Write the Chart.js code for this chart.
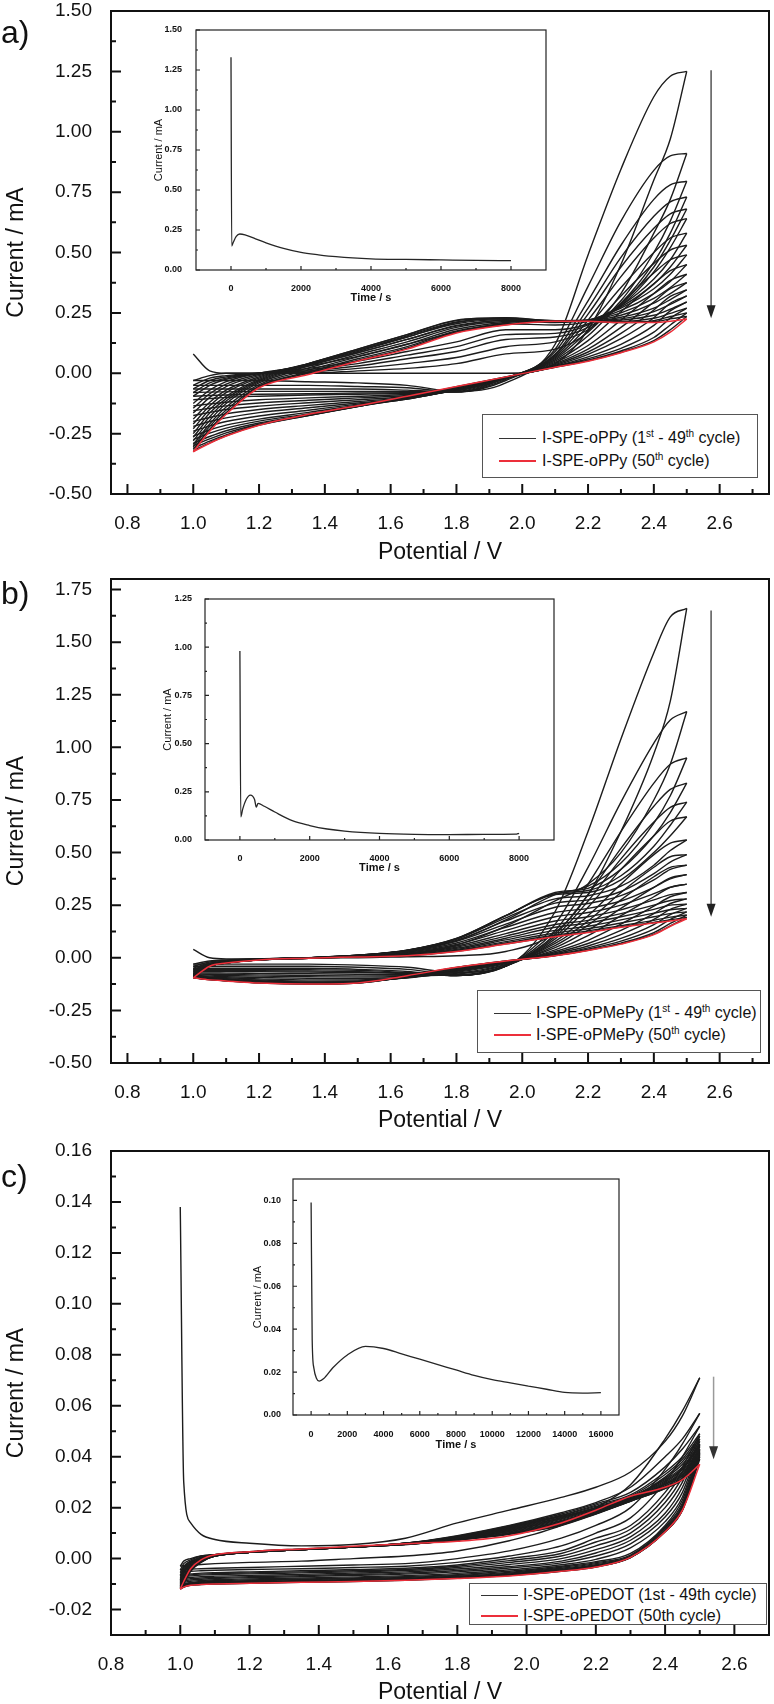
<!DOCTYPE html>
<html>
<head>
<meta charset="utf-8">
<script src="https://cdn.jsdelivr.net/npm/chart.js@4.4.1/dist/chart.umd.min.js"></script>
<style>
  body { margin: 0; background: #fff; width: 774px; height: 1704px; position: relative; overflow: hidden;
         font-family: "Liberation Sans", Arial, sans-serif; color: #111; }
  canvas { position: absolute; }
  .inset { z-index: 2; }
  .plabel { position: absolute; left: 1px; font-size: 32px; line-height: 32px; }
  .legend { position: absolute; box-sizing: border-box; border: 1px solid #555; background: #fff; z-index: 3; }
  .legend .sw { position: absolute; width: 37px; height: 1px; background: #333; }
  .legend .sw.red { height: 2px; margin-top: -1px; background: #ec2f3a; }
  .legend .tx { position: absolute; font-size: 16px; line-height: 1; white-space: nowrap; transform: translateY(-52%); }
  .legend sup { font-size: 10px; line-height: 0; vertical-align: 6px; }
</style>
</head>
<body>

<canvas id="mainA" width="774" height="570" style="left:0;top:0"></canvas>
<canvas id="mainB" width="774" height="565" style="left:0;top:570px"></canvas>
<canvas id="mainC" width="774" height="578" style="left:0;top:1130px"></canvas>
<canvas id="insetA" class="inset" width="420" height="290" style="left:135px;top:22px"></canvas>
<canvas id="insetB" class="inset" width="424" height="290" style="left:140px;top:590px"></canvas>
<canvas id="insetC" class="inset" width="390" height="285" style="left:240px;top:1170px"></canvas>

<div class="plabel" style="top:16px">a)</div>
<div class="plabel" style="top:577px">b)</div>
<div class="plabel" style="top:1160px">c)</div>

<div class="legend" style="left:482px;top:414px;width:276px;height:64px">
  <div class="sw" style="left:16px;top:23px"></div>
  <div class="tx" style="left:59px;top:23px">I-SPE-oPPy (1<sup>st</sup> - 49<sup>th</sup> cycle)</div>
  <div class="sw red" style="left:16px;top:46px"></div>
  <div class="tx" style="left:59px;top:46px">I-SPE-oPPy (50<sup>th</sup> cycle)</div>
</div>
<div class="legend" style="left:477px;top:990px;width:284px;height:63px">
  <div class="sw" style="left:16px;top:22px"></div>
  <div class="tx" style="left:58px;top:22px">I-SPE-oPMePy (1<sup>st</sup> - 49<sup>th</sup> cycle)</div>
  <div class="sw red" style="left:16px;top:44px"></div>
  <div class="tx" style="left:58px;top:44px">I-SPE-oPMePy (50<sup>th</sup> cycle)</div>
</div>
<div class="legend" style="left:469px;top:1583px;width:298px;height:42px">
  <div class="sw" style="left:11px;top:11px"></div>
  <div class="tx" style="left:53px;top:11px">I-SPE-oPEDOT (1st - 49th cycle)</div>
  <div class="sw red" style="left:11px;top:32px"></div>
  <div class="tx" style="left:53px;top:32px">I-SPE-oPEDOT (50th cycle)</div>
</div>

<script>
// tick labels
const potentialTicks = [0.8, 1.0, 1.2, 1.4, 1.6, 1.8, 2.0, 2.2, 2.4, 2.6];
const currentTicksA = [-0.5, -0.25, 0, 0.25, 0.5, 0.75, 1.0, 1.25, 1.5];
const currentTicksB = [-0.5, -0.25, 0, 0.25, 0.5, 0.75, 1.0, 1.25, 1.5, 1.75];
const currentTicksC = [-0.02, 0, 0.02, 0.04, 0.06, 0.08, 0.1, 0.12, 0.14, 0.16];
const timeTicks8k = [0, 2000, 4000, 6000, 8000];
const timeTicks16k = [0, 2000, 4000, 6000, 8000, 10000, 12000, 14000, 16000];
const insetTicksA = [0, 0.25, 0.5, 0.75, 1.0, 1.25, 1.5];
const insetTicksB = [0, 0.25, 0.5, 0.75, 1.0, 1.25];
const insetTicksC = [0, 0.02, 0.04, 0.06, 0.08, 0.1];

// cycle numbers drawn (last one = 50th, red)
const cycles = [1, 2, 3, 4, 5, 6, 8, 10, 12, 15, 18, 22, 26, 30, 35, 40, 45, 49, 50];

// ---- panel a : oPPy ----
const potentialA = [1.0, 1.05, 1.1, 1.2, 1.35, 1.5, 1.65, 1.8, 1.95, 2.1, 2.2, 2.3, 2.4, 2.45, 2.5];
const anodicA = [
  [0.08, 0.01, 0.0, 0.0, 0.0, 0.0, 0.0, 0.0, 0.0, 0.04, 0.18, 0.45, 0.8, 0.97, 1.25],
  [-0.03, -0.01, 0.0, 0.0, 0.0, 0.01, 0.02, 0.04, 0.08, 0.1, 0.17, 0.33, 0.58, 0.72, 0.91],
  [-0.05, -0.02, -0.01, 0.0, 0.005, 0.02, 0.04, 0.065, 0.11, 0.13, 0.18, 0.3, 0.5, 0.63, 0.795],
  [-0.065, -0.03, -0.015, 0.0, 0.01, 0.03, 0.06, 0.09, 0.14, 0.15, 0.19, 0.29, 0.46, 0.58, 0.73],
  [-0.08, -0.04, -0.02, 0.0, 0.015, 0.04, 0.075, 0.11, 0.16, 0.165, 0.2, 0.285, 0.44, 0.55, 0.68],
  [-0.095, -0.05, -0.025, 0.0, 0.02, 0.05, 0.09, 0.13, 0.18, 0.18, 0.205, 0.28, 0.42, 0.52, 0.64],
  [-0.125, -0.07, -0.035, 0.0, 0.03, 0.07, 0.12, 0.17, 0.205, 0.2, 0.215, 0.28, 0.39, 0.47, 0.58],
  [-0.145, -0.085, -0.045, -0.005, 0.035, 0.085, 0.14, 0.195, 0.22, 0.21, 0.22, 0.275, 0.37, 0.44, 0.53],
  [-0.165, -0.1, -0.055, -0.01, 0.04, 0.095, 0.15, 0.21, 0.228, 0.215, 0.22, 0.27, 0.35, 0.41, 0.49],
  [-0.19, -0.12, -0.07, -0.015, 0.04, 0.1, 0.16, 0.22, 0.23, 0.218, 0.22, 0.26, 0.33, 0.38, 0.45],
  [-0.21, -0.135, -0.08, -0.02, 0.04, 0.1, 0.16, 0.218, 0.228, 0.218, 0.22, 0.25, 0.31, 0.355, 0.41],
  [-0.23, -0.15, -0.095, -0.025, 0.038, 0.095, 0.155, 0.212, 0.225, 0.217, 0.218, 0.24, 0.29, 0.33, 0.375],
  [-0.25, -0.165, -0.105, -0.03, 0.035, 0.09, 0.15, 0.205, 0.222, 0.216, 0.216, 0.232, 0.27, 0.305, 0.345],
  [-0.265, -0.18, -0.115, -0.035, 0.03, 0.085, 0.14, 0.198, 0.218, 0.216, 0.215, 0.225, 0.255, 0.285, 0.32],
  [-0.28, -0.195, -0.125, -0.04, 0.022, 0.077, 0.13, 0.19, 0.214, 0.216, 0.215, 0.22, 0.24, 0.265, 0.295],
  [-0.295, -0.21, -0.14, -0.047, 0.013, 0.068, 0.12, 0.182, 0.21, 0.216, 0.215, 0.215, 0.228, 0.248, 0.27],
  [-0.305, -0.22, -0.152, -0.053, 0.005, 0.06, 0.11, 0.175, 0.205, 0.216, 0.215, 0.212, 0.218, 0.235, 0.25],
  [-0.315, -0.232, -0.163, -0.057, 0.0, 0.053, 0.104, 0.17, 0.201, 0.215, 0.215, 0.21, 0.213, 0.225, 0.235],
  [-0.325, -0.24, -0.17, -0.06, -0.005, 0.05, 0.1, 0.167, 0.2, 0.215, 0.215, 0.21, 0.21, 0.215, 0.225]
];
const cathodicA = [
  [-0.03, -0.03, -0.03, -0.03, -0.035, -0.04, -0.05, -0.075, -0.04, 0.12, 0.49, 0.845, 1.145, 1.23, 1.25],
  [-0.05, -0.05, -0.05, -0.05, -0.05, -0.055, -0.06, -0.078, -0.03, 0.1, 0.36, 0.63, 0.84, 0.9, 0.91],
  [-0.065, -0.065, -0.065, -0.065, -0.065, -0.065, -0.07, -0.078, -0.025, 0.09, 0.3, 0.53, 0.72, 0.78, 0.795],
  [-0.08, -0.078, -0.077, -0.075, -0.075, -0.075, -0.075, -0.077, -0.02, 0.08, 0.27, 0.48, 0.65, 0.71, 0.73],
  [-0.095, -0.092, -0.09, -0.087, -0.085, -0.082, -0.08, -0.075, -0.02, 0.075, 0.245, 0.44, 0.6, 0.66, 0.68],
  [-0.11, -0.105, -0.1, -0.095, -0.09, -0.087, -0.083, -0.073, -0.02, 0.07, 0.22, 0.4, 0.56, 0.62, 0.64],
  [-0.135, -0.127, -0.12, -0.11, -0.102, -0.095, -0.088, -0.072, -0.02, 0.065, 0.195, 0.355, 0.5, 0.56, 0.58],
  [-0.155, -0.145, -0.135, -0.123, -0.112, -0.102, -0.092, -0.071, -0.02, 0.06, 0.175, 0.32, 0.455, 0.51, 0.53],
  [-0.175, -0.162, -0.15, -0.136, -0.122, -0.11, -0.096, -0.07, -0.02, 0.055, 0.155, 0.29, 0.415, 0.47, 0.49],
  [-0.2, -0.183, -0.168, -0.15, -0.133, -0.117, -0.1, -0.07, -0.02, 0.05, 0.135, 0.255, 0.37, 0.425, 0.45],
  [-0.22, -0.2, -0.185, -0.163, -0.143, -0.123, -0.103, -0.07, -0.02, 0.045, 0.115, 0.22, 0.33, 0.385, 0.41],
  [-0.24, -0.218, -0.2, -0.177, -0.153, -0.128, -0.106, -0.069, -0.02, 0.04, 0.1, 0.19, 0.295, 0.35, 0.375],
  [-0.26, -0.235, -0.215, -0.19, -0.162, -0.132, -0.107, -0.068, -0.02, 0.036, 0.088, 0.165, 0.262, 0.318, 0.345],
  [-0.275, -0.248, -0.227, -0.198, -0.168, -0.135, -0.107, -0.066, -0.019, 0.032, 0.078, 0.143, 0.23, 0.29, 0.32],
  [-0.29, -0.262, -0.238, -0.206, -0.172, -0.137, -0.104, -0.063, -0.018, 0.029, 0.068, 0.12, 0.198, 0.258, 0.295],
  [-0.3, -0.272, -0.247, -0.211, -0.174, -0.138, -0.101, -0.06, -0.017, 0.027, 0.06, 0.103, 0.17, 0.228, 0.27],
  [-0.31, -0.281, -0.255, -0.214, -0.175, -0.138, -0.099, -0.058, -0.016, 0.026, 0.054, 0.092, 0.148, 0.2, 0.25],
  [-0.32, -0.288, -0.259, -0.215, -0.175, -0.137, -0.097, -0.056, -0.015, 0.025, 0.051, 0.087, 0.135, 0.18, 0.235],
  [-0.325, -0.29, -0.26, -0.215, -0.17, -0.135, -0.095, -0.055, -0.015, 0.025, 0.05, 0.085, 0.13, 0.17, 0.225]
];
const timeA = [0, 20, 60, 150, 250, 400, 700, 1000, 1500, 2000, 2500, 3000, 4000, 5000, 6000, 7000, 8000];
const currentA = [1.33, 0.15, 0.17, 0.21, 0.225, 0.22, 0.195, 0.17, 0.135, 0.11, 0.095, 0.083, 0.07, 0.066, 0.063, 0.06, 0.058];

// ---- panel b : oPMePy ----
const potentialB = [1.0, 1.05, 1.1, 1.2, 1.35, 1.5, 1.65, 1.8, 1.95, 2.1, 2.2, 2.3, 2.4, 2.45, 2.5];
const anodicB = [
  [0.04, 0.0, -0.005, -0.005, 0.0, 0.0, 0.005, 0.01, 0.03, 0.12, 0.3, 0.6, 0.97, 1.22, 1.66],
  [-0.03, -0.015, -0.01, -0.005, 0.0, 0.005, 0.02, 0.06, 0.15, 0.27, 0.35, 0.5, 0.75, 0.92, 1.17],
  [-0.04, -0.02, -0.012, -0.005, 0.0, 0.01, 0.03, 0.08, 0.18, 0.3, 0.34, 0.45, 0.64, 0.77, 0.95],
  [-0.05, -0.025, -0.015, -0.007, 0.0, 0.01, 0.035, 0.09, 0.2, 0.31, 0.33, 0.42, 0.58, 0.69, 0.83],
  [-0.055, -0.028, -0.016, -0.007, 0.0, 0.011, 0.036, 0.092, 0.2, 0.305, 0.32, 0.39, 0.53, 0.63, 0.74],
  [-0.06, -0.03, -0.018, -0.008, 0.0, 0.012, 0.036, 0.092, 0.2, 0.3, 0.31, 0.37, 0.5, 0.58, 0.67],
  [-0.067, -0.033, -0.019, -0.008, 0.0, 0.012, 0.035, 0.088, 0.19, 0.28, 0.295, 0.34, 0.44, 0.51, 0.56],
  [-0.073, -0.035, -0.02, -0.009, 0.0, 0.012, 0.034, 0.083, 0.175, 0.26, 0.275, 0.315, 0.4, 0.455, 0.49],
  [-0.077, -0.037, -0.021, -0.009, 0.0, 0.012, 0.032, 0.078, 0.16, 0.24, 0.258, 0.295, 0.37, 0.42, 0.44],
  [-0.081, -0.038, -0.022, -0.01, 0.0, 0.011, 0.029, 0.07, 0.145, 0.215, 0.235, 0.27, 0.335, 0.375, 0.395],
  [-0.084, -0.039, -0.023, -0.01, 0.0, 0.01, 0.026, 0.063, 0.13, 0.195, 0.215, 0.25, 0.305, 0.335, 0.35],
  [-0.087, -0.04, -0.024, -0.01, -0.001, 0.009, 0.023, 0.056, 0.115, 0.175, 0.195, 0.228, 0.275, 0.3, 0.31],
  [-0.089, -0.04, -0.024, -0.01, -0.001, 0.008, 0.02, 0.05, 0.103, 0.158, 0.178, 0.21, 0.25, 0.272, 0.28],
  [-0.09, -0.04, -0.025, -0.01, -0.002, 0.007, 0.018, 0.045, 0.093, 0.145, 0.165, 0.195, 0.23, 0.25, 0.255],
  [-0.092, -0.04, -0.025, -0.01, -0.002, 0.006, 0.015, 0.04, 0.085, 0.13, 0.15, 0.18, 0.212, 0.228, 0.235],
  [-0.093, -0.04, -0.025, -0.01, -0.002, 0.005, 0.013, 0.036, 0.077, 0.118, 0.138, 0.165, 0.195, 0.21, 0.218],
  [-0.094, -0.04, -0.025, -0.01, -0.002, 0.005, 0.011, 0.033, 0.07, 0.108, 0.128, 0.153, 0.178, 0.193, 0.203],
  [-0.095, -0.04, -0.025, -0.01, -0.002, 0.004, 0.01, 0.031, 0.066, 0.102, 0.122, 0.147, 0.168, 0.18, 0.192],
  [-0.095, -0.04, -0.025, -0.01, -0.002, 0.004, 0.01, 0.03, 0.065, 0.1, 0.12, 0.145, 0.165, 0.175, 0.185]
];
const cathodicB = [
  [-0.03, -0.03, -0.03, -0.03, -0.03, -0.035, -0.045, -0.07, -0.04, 0.22, 0.6, 1.04, 1.45, 1.62, 1.66],
  [-0.04, -0.04, -0.04, -0.04, -0.04, -0.045, -0.055, -0.08, -0.04, 0.16, 0.43, 0.74, 1.02, 1.13, 1.17],
  [-0.05, -0.05, -0.05, -0.05, -0.05, -0.055, -0.065, -0.085, -0.04, 0.13, 0.35, 0.6, 0.83, 0.92, 0.95],
  [-0.055, -0.055, -0.055, -0.055, -0.057, -0.06, -0.07, -0.085, -0.04, 0.11, 0.3, 0.52, 0.72, 0.8, 0.83],
  [-0.06, -0.06, -0.06, -0.061, -0.063, -0.066, -0.073, -0.085, -0.04, 0.1, 0.27, 0.47, 0.645, 0.715, 0.74],
  [-0.065, -0.065, -0.065, -0.066, -0.068, -0.07, -0.075, -0.085, -0.04, 0.09, 0.24, 0.42, 0.58, 0.65, 0.67],
  [-0.072, -0.072, -0.073, -0.074, -0.076, -0.078, -0.08, -0.082, -0.037, 0.078, 0.2, 0.35, 0.49, 0.545, 0.56],
  [-0.077, -0.078, -0.079, -0.081, -0.084, -0.086, -0.085, -0.078, -0.034, 0.068, 0.175, 0.31, 0.43, 0.48, 0.49],
  [-0.08, -0.082, -0.084, -0.087, -0.09, -0.092, -0.088, -0.074, -0.031, 0.058, 0.155, 0.275, 0.385, 0.43, 0.44],
  [-0.084, -0.087, -0.09, -0.094, -0.098, -0.099, -0.092, -0.069, -0.028, 0.048, 0.13, 0.235, 0.335, 0.38, 0.395],
  [-0.087, -0.091, -0.095, -0.1, -0.105, -0.105, -0.095, -0.065, -0.025, 0.038, 0.105, 0.2, 0.29, 0.335, 0.35],
  [-0.089, -0.094, -0.099, -0.105, -0.111, -0.11, -0.095, -0.062, -0.023, 0.03, 0.083, 0.16, 0.245, 0.29, 0.31],
  [-0.091, -0.097, -0.102, -0.109, -0.115, -0.113, -0.094, -0.059, -0.021, 0.024, 0.068, 0.13, 0.21, 0.258, 0.28],
  [-0.092, -0.099, -0.104, -0.112, -0.118, -0.115, -0.093, -0.056, -0.02, 0.019, 0.056, 0.11, 0.182, 0.23, 0.255],
  [-0.093, -0.101, -0.106, -0.115, -0.121, -0.117, -0.091, -0.053, -0.018, 0.015, 0.047, 0.092, 0.158, 0.205, 0.235],
  [-0.094, -0.103, -0.108, -0.117, -0.123, -0.119, -0.089, -0.05, -0.017, 0.012, 0.041, 0.079, 0.136, 0.182, 0.218],
  [-0.095, -0.104, -0.109, -0.119, -0.124, -0.12, -0.087, -0.047, -0.016, 0.011, 0.037, 0.07, 0.12, 0.163, 0.203],
  [-0.095, -0.104, -0.11, -0.12, -0.125, -0.12, -0.086, -0.046, -0.015, 0.01, 0.035, 0.067, 0.112, 0.152, 0.192],
  [-0.095, -0.105, -0.11, -0.12, -0.125, -0.12, -0.085, -0.045, -0.015, 0.01, 0.035, 0.065, 0.11, 0.15, 0.185]
];
const timeB = [0, 25, 80, 180, 300, 420, 470, 520, 700, 1000, 1500, 2000, 2500, 3000, 4000, 5000, 6000, 7000, 7900, 8000];
const currentB = [0.98, 0.12, 0.16, 0.21, 0.233, 0.21, 0.17, 0.19, 0.175, 0.145, 0.1, 0.075, 0.057, 0.046, 0.034, 0.029, 0.028, 0.029, 0.03, 0.035];

// ---- panel c : oPEDOT ----
const potentialC = [1.0, 1.01, 1.03, 1.06, 1.1, 1.2, 1.35, 1.5, 1.65, 1.8, 1.95, 2.1, 2.2, 2.3, 2.4, 2.45, 2.5];
const anodicC = [
  [0.138, 0.03, 0.014, 0.0095, 0.0075, 0.006, 0.005, 0.0055, 0.008, 0.014, 0.019, 0.024, 0.028, 0.034, 0.046, 0.056, 0.071],
  [-0.003, -0.001, 0.0, 0.001, 0.0015, 0.0025, 0.0035, 0.0045, 0.006, 0.009, 0.013, 0.018, 0.022, 0.028, 0.04, 0.047, 0.057],
  [-0.0045, -0.002, -0.0005, 0.001, 0.0015, 0.0025, 0.0035, 0.0045, 0.006, 0.0088, 0.0128, 0.0175, 0.0215, 0.026, 0.036, 0.043, 0.052],
  [-0.0055, -0.003, -0.001, 0.0005, 0.0015, 0.0025, 0.0035, 0.0045, 0.006, 0.0086, 0.0125, 0.017, 0.021, 0.025, 0.034, 0.04, 0.049],
  [-0.0065, -0.0035, -0.0012, 0.0005, 0.0015, 0.0025, 0.0035, 0.0045, 0.006, 0.0084, 0.0122, 0.0168, 0.0205, 0.0245, 0.033, 0.039, 0.048],
  [-0.007, -0.004, -0.0015, 0.0005, 0.0015, 0.0025, 0.0035, 0.0045, 0.006, 0.0082, 0.012, 0.0165, 0.02, 0.024, 0.032, 0.038, 0.047],
  [-0.0078, -0.0045, -0.0018, 0.0003, 0.0013, 0.0025, 0.0035, 0.0045, 0.006, 0.0081, 0.0118, 0.0162, 0.02, 0.024, 0.0315, 0.037, 0.046],
  [-0.0085, -0.005, -0.002, 0.0, 0.0012, 0.0025, 0.0035, 0.0045, 0.0059, 0.008, 0.0115, 0.016, 0.0198, 0.024, 0.031, 0.036, 0.045],
  [-0.009, -0.0055, -0.0023, 0.0, 0.0012, 0.0025, 0.0035, 0.0045, 0.0058, 0.008, 0.0113, 0.0157, 0.0196, 0.024, 0.0305, 0.0355, 0.0445],
  [-0.0095, -0.006, -0.0026, -0.0002, 0.0011, 0.0025, 0.0035, 0.0045, 0.0058, 0.0079, 0.0111, 0.0154, 0.0193, 0.0238, 0.03, 0.035, 0.044],
  [-0.01, -0.0068, -0.003, -0.0005, 0.001, 0.0025, 0.0035, 0.0045, 0.0058, 0.0078, 0.011, 0.015, 0.019, 0.0235, 0.0295, 0.0342, 0.043],
  [-0.0103, -0.0073, -0.0033, -0.0006, 0.001, 0.0025, 0.0035, 0.0045, 0.0057, 0.0077, 0.0107, 0.0147, 0.0187, 0.0233, 0.0292, 0.0336, 0.0425],
  [-0.0107, -0.0078, -0.0036, -0.0008, 0.001, 0.0025, 0.0035, 0.0045, 0.0056, 0.0076, 0.0105, 0.0144, 0.0184, 0.023, 0.029, 0.033, 0.042],
  [-0.011, -0.0083, -0.0039, -0.0009, 0.001, 0.0025, 0.0035, 0.0045, 0.0056, 0.0075, 0.0102, 0.0141, 0.0181, 0.0229, 0.0285, 0.0325, 0.0415],
  [-0.0113, -0.0088, -0.0042, -0.001, 0.001, 0.0025, 0.0035, 0.0045, 0.0055, 0.0075, 0.01, 0.0138, 0.0179, 0.0227, 0.0281, 0.0318, 0.041],
  [-0.0115, -0.0092, -0.0045, -0.0012, 0.001, 0.0025, 0.0035, 0.0045, 0.0055, 0.0074, 0.0098, 0.0135, 0.0177, 0.0226, 0.0278, 0.0314, 0.0405],
  [-0.0117, -0.0096, -0.0048, -0.0014, 0.0011, 0.0026, 0.0037, 0.0046, 0.0056, 0.0073, 0.0096, 0.0132, 0.0176, 0.0225, 0.0276, 0.0311, 0.04],
  [-0.0119, -0.0099, -0.005, -0.0015, 0.0012, 0.0027, 0.0038, 0.0047, 0.0056, 0.0072, 0.0095, 0.013, 0.0175, 0.0225, 0.0275, 0.031, 0.039],
  [-0.012, -0.009, -0.004, -0.0005, 0.0015, 0.0027, 0.0038, 0.0048, 0.0058, 0.0068, 0.009, 0.014, 0.019, 0.0245, 0.028, 0.031, 0.037]
];
const cathodicC = [
  [-0.003, -0.0028, -0.0026, -0.0023, -0.002, -0.0015, -0.001, 0.0, 0.001, 0.003, 0.007, 0.013, 0.02, 0.029, 0.047, 0.058, 0.071],
  [-0.0045, -0.0043, -0.0041, -0.004, -0.0038, -0.0035, -0.003, -0.0025, -0.002, 0.0, 0.003, 0.008, 0.013, 0.02, 0.035, 0.045, 0.057],
  [-0.0055, -0.0053, -0.005, -0.0048, -0.0046, -0.0043, -0.004, -0.0035, -0.003, -0.0015, 0.001, 0.005, 0.01, 0.016, 0.03, 0.04, 0.052],
  [-0.0065, -0.0062, -0.006, -0.0057, -0.0055, -0.0052, -0.0048, -0.0043, -0.0038, -0.0025, 0.0, 0.003, 0.008, 0.013, 0.026, 0.036, 0.049],
  [-0.007, -0.0067, -0.0064, -0.0061, -0.0059, -0.0056, -0.0052, -0.0048, -0.0043, -0.003, -0.0008, 0.002, 0.0065, 0.0115, 0.024, 0.034, 0.048],
  [-0.0075, -0.0072, -0.0068, -0.0065, -0.0063, -0.006, -0.0056, -0.0052, -0.0047, -0.0035, -0.0015, 0.001, 0.005, 0.01, 0.022, 0.032, 0.047],
  [-0.0082, -0.0078, -0.0074, -0.0071, -0.0069, -0.0066, -0.0062, -0.0057, -0.0052, -0.0041, -0.0023, 0.0, 0.0035, 0.0085, 0.02, 0.03, 0.046],
  [-0.0088, -0.0083, -0.0079, -0.0076, -0.0074, -0.0071, -0.0067, -0.0062, -0.0057, -0.0047, -0.0031, -0.001, 0.0022, 0.0072, 0.0178, 0.028, 0.045],
  [-0.0093, -0.0088, -0.0084, -0.0081, -0.0078, -0.0075, -0.0071, -0.0066, -0.0061, -0.0052, -0.0037, -0.0017, 0.001, 0.0058, 0.0163, 0.026, 0.0445],
  [-0.0098, -0.0093, -0.0089, -0.0086, -0.0083, -0.008, -0.0076, -0.0072, -0.0067, -0.0058, -0.0044, -0.0024, -0.0003, 0.0042, 0.0145, 0.0242, 0.044],
  [-0.0103, -0.0098, -0.0094, -0.009, -0.0087, -0.0084, -0.008, -0.0076, -0.0071, -0.0063, -0.005, -0.003, -0.0012, 0.002, 0.013, 0.023, 0.043],
  [-0.0107, -0.0101, -0.0097, -0.0093, -0.009, -0.0087, -0.0083, -0.0079, -0.0074, -0.0066, -0.0054, -0.0034, -0.0016, 0.0014, 0.0124, 0.0218, 0.0425],
  [-0.011, -0.0104, -0.0099, -0.0096, -0.0093, -0.009, -0.0086, -0.0082, -0.0077, -0.0069, -0.0057, -0.0038, -0.002, 0.001, 0.012, 0.021, 0.042],
  [-0.0113, -0.0106, -0.0101, -0.0098, -0.0095, -0.0092, -0.0088, -0.0084, -0.0079, -0.0071, -0.006, -0.0041, -0.0024, 0.0007, 0.0114, 0.0205, 0.0415],
  [-0.0115, -0.0108, -0.0102, -0.0099, -0.0097, -0.0094, -0.009, -0.0086, -0.0081, -0.0073, -0.0062, -0.0044, -0.0027, 0.0005, 0.011, 0.02, 0.041],
  [-0.0117, -0.0109, -0.0103, -0.01, -0.0098, -0.0095, -0.0091, -0.0087, -0.0082, -0.0075, -0.0064, -0.0046, -0.003, 0.0004, 0.0107, 0.0195, 0.0405],
  [-0.0119, -0.0111, -0.0104, -0.0101, -0.0099, -0.0096, -0.0092, -0.0089, -0.0084, -0.0076, -0.0066, -0.0049, -0.0032, 0.0004, 0.0105, 0.019, 0.04],
  [-0.012, -0.0112, -0.0105, -0.0102, -0.01, -0.0097, -0.0093, -0.009, -0.0085, -0.0077, -0.0067, -0.005, -0.0033, 0.0005, 0.0105, 0.019, 0.039],
  [-0.012, -0.0112, -0.0105, -0.0102, -0.01, -0.0097, -0.0093, -0.009, -0.0085, -0.0078, -0.0068, -0.005, -0.0033, 0.0005, 0.0105, 0.019, 0.037]
];
const timeC = [0, 60, 150, 300, 450, 700, 1200, 2000, 3000, 4000, 5000, 6000, 7000, 8000, 9000, 10000, 11000, 12000, 13000, 14000, 15000, 16000];
const currentC = [0.099, 0.035, 0.022, 0.017, 0.0158, 0.017, 0.022, 0.028, 0.032, 0.031, 0.0285, 0.026, 0.0235, 0.021, 0.0185, 0.0165, 0.015, 0.0135, 0.012, 0.0105, 0.0102, 0.0104];

const GREY = '#1c1c1c';
const RED = '#ec2f3a';
const INK = '#111';

// minor ticks sit halfway between the major ones
function minorTicks(scale) {
  const v = scale.ticks.map(t => t.value);
  if (v.length < 2) return [];
  const step = v[1] - v[0];
  const out = [v[0] - step / 2].concat(v.map(t => t + step / 2));
  const eps = step * 0.01;
  return out.filter(t => t > scale.min + eps && t < scale.max - eps);
}

const frame = {
  id: 'frame',
  afterDatasetsDraw(chart, args, o) {
    const {ctx, chartArea: a} = chart;
    const xs = chart.scales.x, ys = chart.scales.y;
    ctx.save();
    ctx.strokeStyle = o.color;
    ctx.lineWidth = o.width;
    ctx.beginPath();
    xs.ticks.forEach(t => { const p = xs.getPixelForValue(t.value); ctx.moveTo(p, a.bottom); ctx.lineTo(p, a.bottom - o.major); });
    minorTicks(xs).forEach(v => { const p = xs.getPixelForValue(v); ctx.moveTo(p, a.bottom); ctx.lineTo(p, a.bottom - o.minor); });
    ys.ticks.forEach(t => { const p = ys.getPixelForValue(t.value); ctx.moveTo(a.left, p); ctx.lineTo(a.left + o.major, p); });
    minorTicks(ys).forEach(v => { const p = ys.getPixelForValue(v); ctx.moveTo(a.left, p); ctx.lineTo(a.left + o.minor, p); });
    ctx.stroke();
    ctx.strokeRect(a.left, a.top, a.right - a.left, a.bottom - a.top);
    ctx.restore();
  }
};

const arrow = {
  id: 'arrow',
  afterDatasetsDraw(chart, args, o) {
    if (!o || o.x === undefined) return;
    const {ctx} = chart;
    const xs = chart.scales.x, ys = chart.scales.y;
    const px = xs.getPixelForValue(o.x), y1 = ys.getPixelForValue(o.from), y2 = ys.getPixelForValue(o.to);
    ctx.save();
    ctx.strokeStyle = o.color;
    ctx.lineWidth = 1.5;
    ctx.beginPath();
    ctx.moveTo(px, y1);
    ctx.lineTo(px, y2 - 10);
    ctx.stroke();
    ctx.fillStyle = o.head;
    ctx.beginPath();
    ctx.moveTo(px - 4.5, y2 - 13);
    ctx.lineTo(px + 4.5, y2 - 13);
    ctx.lineTo(px, y2);
    ctx.closePath();
    ctx.fill();
    ctx.restore();
  }
};

function cvDatasets(potential, anodic, cathodic) {
  const sets = [];
  cycles.forEach((c, i) => {
    const last = i === cycles.length - 1;
    [anodic[i], cathodic[i]].forEach(arr => {
      sets.push({
        label: 'cycle ' + c,
        data: potential.map((e, j) => ({x: e, y: arr[j]})),
        borderColor: last ? RED : GREY,
        borderWidth: last ? 1.5 : 1.4,
        order: last ? 0 : 1
      });
    });
  });
  return sets;
}

const fixTicks = list => s => { s.ticks = list.map(v => ({value: v})); };

function mainChart(id, c) {
  return new Chart(document.getElementById(id), {
    type: 'line',
    data: {datasets: cvDatasets(c.potential, c.anodic, c.cathodic)},
    options: {
      responsive: false, animation: false, devicePixelRatio: 1,
      layout: {padding: {top: c.padTop, right: 5, left: 0, bottom: 0}},
      elements: {point: {radius: 0}, line: {cubicInterpolationMode: 'monotone'}},
      plugins: {
        legend: {display: false}, tooltip: {enabled: false},
        frame: {color: INK, width: 2, major: 10, minor: 5},
        arrow: c.arrow
      },
      scales: {
        x: {
          type: 'linear', min: c.xMin, max: c.xMax,
          grid: {display: false}, border: {display: false},
          afterBuildTicks: fixTicks(potentialTicks),
          ticks: {autoSkip: false, maxRotation: 0, padding: 10,
                  color: INK, font: {size: 19}, callback: v => v.toFixed(1)},
          title: {display: true, text: 'Potential / V', color: INK, font: {size: 23}, padding: {top: 0, bottom: c.titlePad}},
          afterFit: s => { s.height = c.xHeight; s.paddingLeft = 0; s.paddingRight = 0; }
        },
        y: {
          type: 'linear', min: c.yMin, max: c.yMax,
          grid: {display: false}, border: {display: false},
          afterBuildTicks: fixTicks(c.yTicks),
          ticks: {autoSkip: false, padding: 11,
                  color: INK, font: {size: 19}, callback: v => v.toFixed(2)},
          title: {display: true, text: 'Current / mA', color: INK, font: {size: 23}, padding: {top: 3, bottom: 0}},
          afterFit: s => { s.width = 111; s.paddingTop = 0; s.paddingBottom = 0; }
        }
      }
    },
    plugins: [frame, arrow]
  });
}

function insetChart(id, c) {
  return new Chart(document.getElementById(id), {
    type: 'line',
    data: {datasets: [{
      data: c.time.map((t, j) => ({x: t, y: c.current[j]})),
      borderColor: '#262626', borderWidth: 1.3
    }]},
    options: {
      responsive: false, animation: false, devicePixelRatio: 1,
      layout: {padding: {top: c.padTop, right: c.padRight, left: 0, bottom: 0}},
      elements: {point: {radius: 0}, line: {cubicInterpolationMode: 'monotone'}},
      plugins: {
        legend: {display: false}, tooltip: {enabled: false},
        frame: {color: '#222', width: 1.2, major: 4, minor: 2}
      },
      scales: {
        x: {
          type: 'linear', min: c.xMin, max: c.xMax,
          grid: {display: false}, border: {display: false},
          afterBuildTicks: fixTicks(c.xTicks),
          ticks: {autoSkip: false, maxRotation: 0, padding: c.xTickPad,
                  color: INK, font: {size: 9, weight: 'bold'}, callback: v => String(v)},
          title: {display: true, text: 'Time / s', color: INK, font: {size: 11, weight: 'bold'}, padding: {top: 0, bottom: c.xTitlePad}},
          afterFit: s => { s.height = c.xHeight; s.paddingLeft = 0; s.paddingRight = 0; }
        },
        y: {
          type: 'linear', min: c.yMin, max: c.yMax,
          grid: {display: false}, border: {display: false},
          afterBuildTicks: fixTicks(c.yTicks),
          ticks: {autoSkip: false, padding: c.yTickPad,
                  color: INK, font: {size: 9, weight: 'bold'}, callback: v => v.toFixed(2)},
          title: {display: true, text: 'Current / mA', color: INK, font: {size: 11}, padding: {top: c.yTitlePad, bottom: 0}},
          afterFit: s => { s.width = c.yWidth; s.paddingTop = 0; s.paddingBottom = 0; }
        }
      }
    },
    plugins: [frame]
  });
}

mainChart('mainA', {
  potential: potentialA, anodic: anodicA, cathodic: cathodicA,
  xMin: 0.75, xMax: 2.75, yMin: -0.5, yMax: 1.5, yTicks: currentTicksA,
  padTop: 11, xHeight: 76, titlePad: 4,
  arrow: {x: 2.574, from: 1.255, to: 0.228, color: '#555', head: '#222'}
});
mainChart('mainB', {
  potential: potentialB, anodic: anodicB, cathodic: cathodicB,
  xMin: 0.75, xMax: 2.75, yMin: -0.5, yMax: 1.8, yTicks: currentTicksB,
  padTop: 9, xHeight: 72, titlePad: 1,
  arrow: {x: 2.574, from: 1.65, to: 0.195, color: '#555', head: '#222'}
});
mainChart('mainC', {
  potential: potentialC, anodic: anodicC, cathodic: cathodicC,
  xMin: 0.8, xMax: 2.7, yMin: -0.03, yMax: 0.16, yTicks: currentTicksC,
  padTop: 21, xHeight: 73, titlePad: 2,
  arrow: {x: 2.54, from: 0.0714, to: 0.039, color: '#9a9a9a', head: '#333'}
});

insetChart('insetA', {
  time: timeA, current: currentA, xMin: -1000, xMax: 9000, yMin: 0, yMax: 1.5,
  xTicks: timeTicks8k, yTicks: insetTicksA,
  padTop: 8, padRight: 9, yWidth: 61, xHeight: 42, xTickPad: 5, xTitlePad: 7, yTickPad: 6, yTitlePad: 17
});
insetChart('insetB', {
  time: timeB, current: currentB, xMin: -1000, xMax: 9000, yMin: 0, yMax: 1.25,
  xTicks: timeTicks8k, yTicks: insetTicksB,
  padTop: 9, padRight: 10, yWidth: 65, xHeight: 40, xTickPad: 5, xTitlePad: 5, yTickPad: 5, yTitlePad: 21
});
insetChart('insetC', {
  time: timeC, current: currentC, xMin: -1000, xMax: 17000, yMin: 0, yMax: 0.11,
  xTicks: timeTicks16k, yTicks: insetTicksC,
  padTop: 9, padRight: 11, yWidth: 53, xHeight: 40, xTickPad: 6, xTitlePad: 3, yTickPad: 4, yTitlePad: 11
});
</script>
</body>
</html>
